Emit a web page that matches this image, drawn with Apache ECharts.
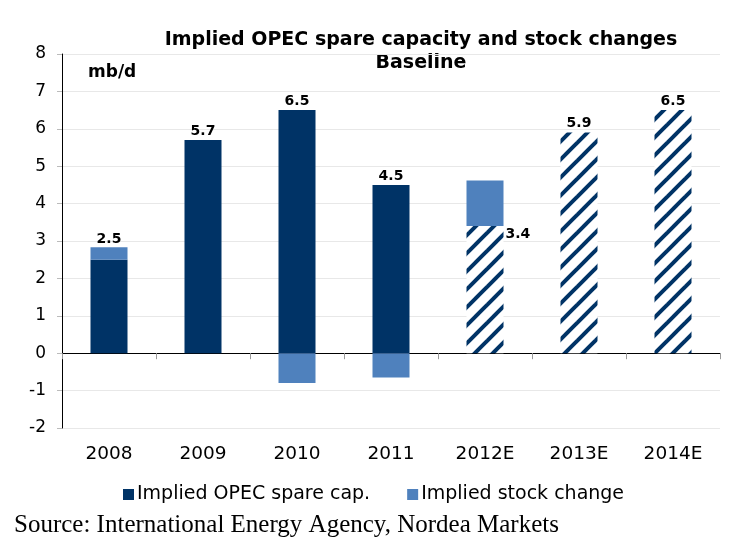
<!DOCTYPE html>
<html>
<head>
<meta charset="utf-8">
<script src="https://cdn.jsdelivr.net/npm/echarts/dist/echarts.min.js"></script>
<style>
html,body{margin:0;padding:0;background:#fff;}
#chart{width:733px;height:544px;}
</style>
</head>
<body>
<div id="chart"></div>
<script>
// ---- data ----
const categories = ['2008', '2009', '2010', '2011', '2012E', '2013E', '2014E'];
const spareCap = [2.5, 5.7, 6.5, 4.5, 3.4, 5.9, 6.5];
const stockChange = [0.33, null, -0.8, -0.65, 1.22, null, null];
const estimated = [false, false, false, false, true, true, true];
const yMin = -2, yMax = 8, yStep = 1;
const seriesNames = ['Implied OPEC spare cap.', 'Implied stock change'];

// ---- styles ----
const DARK = '#003366';
const LIGHT = '#4F81BD';
const FONT = '"DejaVu Sans", Verdana, sans-serif';

function hatchPattern() {
  const n = 18;
  const c = document.createElement('canvas');
  c.width = n; c.height = n;
  const g = c.getContext('2d');
  g.fillStyle = '#ffffff';
  g.fillRect(0, 0, n, n);
  g.strokeStyle = DARK;
  g.lineWidth = 4;
  [-n, 0, n].forEach(o => {
    g.beginPath();
    g.moveTo(o - 2, n + 2);
    g.lineTo(o + n + 2, -2);
    g.stroke();
  });
  return c;
}
const hatch = { image: hatchPattern(), repeat: 'repeat' };

const spareData = spareCap.map((v, i) => {
  const item = { value: v };
  if (estimated[i]) item.itemStyle = { color: hatch };
  if (i === 0) item.label = { show: false };
  if (stockChange[i] !== null && stockChange[i] > 0 && i !== 0) {
    item.label = {
      show: true, position: ['100%', 0], align: 'left', verticalAlign: 'top', offset: [2, 1]
    };
  }
  return item;
});
const stockData = stockChange.map((v, i) => {
  const item = { value: v };
  if (i === 0) {
    item.label = { show: true, position: 'top', distance: 1, formatter: () => spareCap[0].toFixed(1) };
  }
  return item;
});

const chart = echarts.init(document.getElementById('chart'), null, { renderer: 'canvas' });
chart.setOption({
  animation: false,
  backgroundColor: '#fff',
  textStyle: { fontFamily: FONT },
  grid: { left: 62, right: 13, top: 54, bottom: 116, containLabel: false },
  legend: {
    data: seriesNames,
    left: 118, top: 480,
    icon: 'rect', itemWidth: 11, itemHeight: 11, itemGap: 37,
    textStyle: { fontFamily: FONT, fontSize: 19, color: '#000', padding: [0, 0, 0, -2] }
  },
  xAxis: [
    {
      type: 'category', data: categories, position: 'bottom',
      axisLine: { onZero: true, lineStyle: { color: '#000', width: 1 } },
      axisTick: { show: true, length: 6, lineStyle: { color: '#999' } },
      axisLabel: { show: false },
      splitLine: { show: false }
    },
    {
      type: 'category', data: categories, position: 'bottom',
      axisLine: { show: false, onZero: false },
      axisTick: { show: false },
      axisLabel: { show: true, margin: 17, fontSize: 18.5, color: '#000', fontFamily: FONT },
      splitLine: { show: false }
    }
  ],
  yAxis: {
    type: 'value', min: yMin, max: yMax, interval: yStep,
    axisLine: { show: true, lineStyle: { color: '#000', width: 1 } },
    axisTick: { show: true, length: 5, lineStyle: { color: '#bbb' } },
    axisLabel: { margin: 16, fontSize: 17, color: '#000', fontFamily: FONT },
    splitLine: { show: true, lineStyle: { color: '#e8e8e8', width: 1 } }
  },
  series: [
    {
      name: seriesNames[0], type: 'bar', stack: 'total', xAxisIndex: 0,
      barWidth: 37,
      itemStyle: { color: DARK },
      label: {
        show: true, position: 'top', distance: 2,
        fontFamily: FONT, fontSize: 14, fontWeight: 'bold', color: '#000',
        formatter: p => Number(p.value).toFixed(1)
      },
      data: spareData
    },
    {
      name: seriesNames[1], type: 'bar', stack: 'total', xAxisIndex: 0,
      barWidth: 37,
      itemStyle: { color: LIGHT },
      label: {
        show: false,
        fontFamily: FONT, fontSize: 14, fontWeight: 'bold', color: '#000'
      },
      data: stockData
    }
  ],
  graphic: [
    {
      type: 'text', x: 421, y: 40,
      style: { text: 'Implied OPEC spare capacity and stock changes', font: 'bold 19px ' + FONT,
        fill: '#000', align: 'center', verticalAlign: 'middle', textAlign: 'center', textVerticalAlign: 'middle' }
    },
    {
      type: 'text', x: 421, y: 63,
      style: { text: 'Baseline', font: 'bold 19px ' + FONT,
        fill: '#000', align: 'center', verticalAlign: 'middle', textAlign: 'center', textVerticalAlign: 'middle' }
    },
    {
      type: 'text', x: 88, y: 73,
      style: { text: 'mb/d', font: 'bold 17px ' + FONT,
        fill: '#000', align: 'left', verticalAlign: 'middle', textAlign: 'left', textVerticalAlign: 'middle' }
    },
    {
      type: 'text', x: 14, y: 525,
      style: { text: 'Source: International Energy Agency, Nordea Markets', font: '25px "Liberation Serif", "Times New Roman", serif',
        fill: '#000', align: 'left', verticalAlign: 'middle', textAlign: 'left', textVerticalAlign: 'middle' }
    }
  ]
});
</script>
</body>
</html>
